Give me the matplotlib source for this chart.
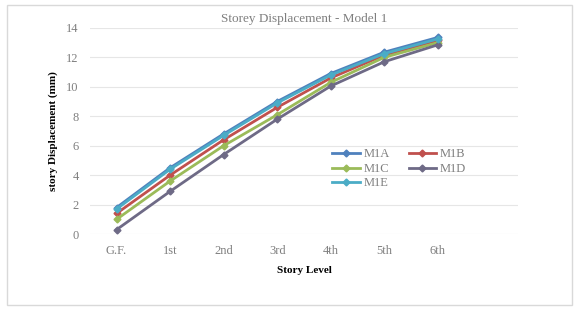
from matplotlib import pyplot as plt
from matplotlib.patches import Rectangle

levels = ['G.F.', '1st', '2nd', '3rd', '4th', '5th', '6th']
m1a = [1.8, 4.5, 6.8, 9.0, 10.9, 12.35, 13.35]
m1b = [1.4, 4.0, 6.4, 8.6, 10.6, 12.15, 13.15]
m1c = [1.0, 3.6, 6.0, 8.1, 10.3, 12.0, 13.0]
m1d = [0.3, 2.9, 5.4, 7.8, 10.05, 11.7, 12.85]
m1e = [1.7, 4.4, 6.7, 8.9, 10.8, 12.25, 13.25]

series = [('M1A', m1a, '#4F81BD'), ('M1B', m1b, '#C0504D'),
          ('M1C', m1c, '#9BBB59'), ('M1D', m1d, '#6E6A86'),
          ('M1E', m1e, '#4BACC6')]

plt.rcParams['font.family'] = ['Liberation Serif', 'DejaVu Serif']

fig = plt.figure(figsize=(5.79, 3.13), dpi=100)
fig.patches.append(Rectangle((0.012, 0.025), 0.976, 0.96, transform=fig.transFigure,
                             fill=False, edgecolor='#d9d9d9', linewidth=1))
ax = fig.add_axes([0.155, 0.252, 0.74, 0.659])

x = range(len(levels))
lines = {}
for name, vals, col in series:
    lines[name], = ax.plot(x, vals, color=col, linewidth=2.0, marker='D',
                           markersize=3.5, label=name)

ax.set_xlim(-0.5, 7.5)
ax.set_ylim(0, 14)
ax.set_yticks(range(0, 15, 2))
ax.set_xticks(list(x))
ax.set_xticklabels(levels)
ax.tick_params(length=0, labelsize=9, colors='#7f7f7f', pad=8)
ax.grid(axis='y', color='#e6e6e6', linewidth=0.8)
ax.set_axisbelow(True)
for s in ax.spines.values():
    s.set_visible(False)

ax.set_title('Storey Displacement - Model 1', fontsize=9.5, color='#7f7f7f', pad=4)
ax.set_xlabel('Story Level', fontsize=8, fontweight='bold', labelpad=6)
ax.set_ylabel('story Displacement (mm)', fontsize=8, fontweight='bold', labelpad=6)

# row-major legend order: A B / C D / E
order = ['M1A', 'M1C', 'M1E', 'M1B', 'M1D']
leg = ax.legend([lines[k] for k in order], order, ncol=2, frameon=False, fontsize=9,
                loc='upper left', bbox_to_anchor=(0.54, 0.47), handlelength=2.2,
                columnspacing=1.5, labelspacing=0.2, handletextpad=0.3)
for t in leg.get_texts():
    t.set_color('#7f7f7f')

plt.savefig('out.png', dpi=100)
